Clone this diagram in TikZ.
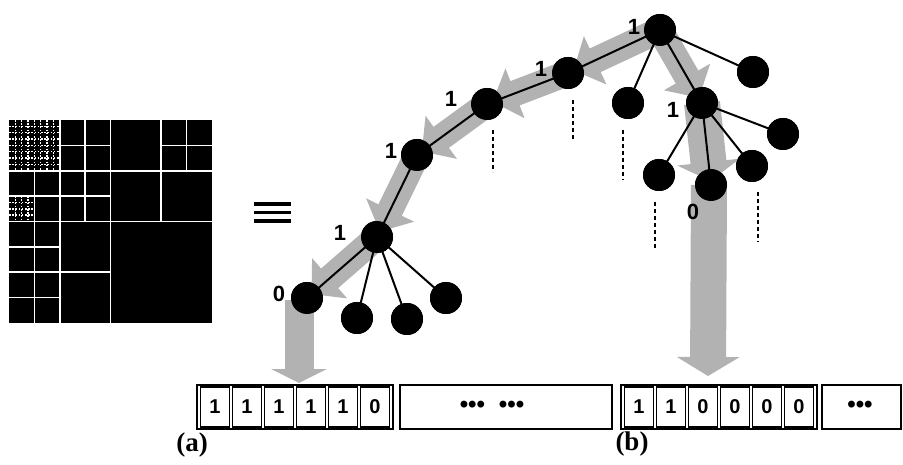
\documentclass[tikz,border=0pt]{standalone}
\usepackage{fontspec}
\setmainfont{Liberation Serif}
\newfontfamily\labelsans{Liberation Sans}
\usetikzlibrary{arrows.meta,calc}
\begin{document}
\begin{tikzpicture}[x=1pt,y=-1pt,
  treenode/.style={circle, fill=black, minimum size=32pt, inner sep=0pt},
  edge/.style={line width=2pt},
  digit/.style={font=\labelsans\bfseries\fontsize{22}{24}\selectfont, inner sep=0pt},
  bitcell/.style={draw, line width=1.1pt, minimum width=29pt, minimum height=40pt,
    inner sep=0pt, font=\labelsans\bfseries\fontsize{20}{22}\selectfont},
  groupbox/.style={line width=1.1pt},
  dotsfont/.style={font=\labelsans\bfseries\fontsize{24}{26}\selectfont, inner sep=0pt},
  vdash/.style={line width=1.6pt, dash pattern=on 4pt off 3pt},
  flowcol/.style={draw=gray!60},
  flowsmall/.style={flowcol, line width=26pt, -{Triangle[width=52pt,length=24pt]}},
  flowbig/.style={flowcol, line width=36pt, -{Triangle[width=62pt,length=19pt]}},
  caption/.style={font=\bfseries\fontsize{27}{29}\selectfont, inner sep=0pt},
  qline/.style={white, line width=1.7pt},
  qdot/.style={white, line width=1.5pt, dash pattern=on 1.6pt off 1.6pt}
]
\useasboundingbox (0,0) rectangle (903,465);

% ---- quadtree partition of the image ----
\begin{scope}[shift={(9,120)}, x=25.375pt, y=-25.375pt]
  \fill[black] (0,0) rectangle (8,8);
  % fine grids in the most refined blocks
  \foreach \k in {1,...,7} {
    \draw[qdot] ({\k*0.25},0) -- ({\k*0.25},2);
    \draw[qdot] (0,{\k*0.25}) -- (2,{\k*0.25});
  }
  \foreach \k in {1,2,3} {
    \draw[qdot] ({\k*0.25},3) -- ({\k*0.25},4);
    \draw[qdot] (0,{3+\k*0.25}) -- (1,{3+\k*0.25});
  }
  % level 1
  \draw[qline] (4,0) -- (4,8);
  \draw[qline] (0,4) -- (8,4);
  % level 2
  \draw[qline] (2,0) -- (2,8);
  \draw[qline] (0,2) -- (8,2);
  \draw[qline] (6,0) -- (6,4);
  \draw[qline] (0,6) -- (4,6);
  % level 3
  \draw[qline] (3,0) -- (3,4);
  \draw[qline] (2,1) -- (4,1);
  \draw[qline] (2,3) -- (4,3);
  \draw[qline] (1,2) -- (1,4);
  \draw[qline] (0,3) -- (2,3);
  \draw[qline] (7,0) -- (7,2);
  \draw[qline] (6,1) -- (8,1);
  \draw[qline] (1,4) -- (1,8);
  \draw[qline] (0,5) -- (2,5);
  \draw[qline] (0,7) -- (2,7);
\end{scope}

% ---- equivalence sign ----
\foreach \yy in {204,212.5,221}
  \draw[line width=3.4pt] (254,\yy) -- (291,\yy);

% ---- tree nodes ----
\node[treenode] (F) at (660,30) {};
\node[treenode] (D) at (568,73) {};
\node[treenode] (C) at (487,104) {};
\node[treenode] (B) at (417,155) {};
\node[treenode] (A) at (377,237) {};
\node[treenode] (N0) at (307,298) {};
\node[treenode] (A1) at (357,318) {};
\node[treenode] (A2) at (407,319) {};
\node[treenode] (A3) at (446,298) {};
\node[treenode] (E) at (628,103) {};
\node[treenode] (G) at (753,72) {};
\node[treenode] (H) at (702,103) {};
\node[treenode] (H1) at (659,175) {};
\node[treenode] (I) at (711,185) {};
\node[treenode] (H3) at (752,166) {};
\node[treenode] (H4) at (783,134) {};

\coordinate (startL) at (299,300);
\coordinate (tipL) at (299,383);
\coordinate (startR) at (709,185);
\coordinate (tipR) at (708,376);

% ---- traversal flow (behind the tree) ----
\draw[flowsmall, shorten >=6pt] (F.center) -- (D.center);
\draw[flowsmall, shorten >=6pt] (D.center) -- (C.center);
\draw[flowsmall, shorten >=6pt] (C.center) -- (B.center);
\draw[flowsmall, shorten >=6pt] (B.center) -- (A.center);
\draw[flowsmall, shorten >=6pt] (A.center) -- (N0.center);
\draw[flowsmall, shorten >=6pt] (F.center) -- (H.center);
\draw[flowbig, shorten >=4pt] (H.center) -- (I.center);
\draw[flowcol, line width=29pt, -{Triangle[width=55pt,length=14pt]}] (startL) -- (tipL);
\draw[flowbig] (startR) -- (tipR);

% ---- tree edges ----
\foreach \u/\v in {F/D, D/C, C/B, B/A, A/N0, A/A1, A/A2, A/A3,
                   F/E, F/G, F/H, H/H1, H/I, H/H3, H/H4}
  \draw[edge] (\u.center) -- (\v.center);

% redraw nodes on top of the edges
\foreach \n in {F,D,C,B,A,N0,A1,A2,A3,E,G,H,H1,I,H3,H4}
  \fill (\n.center) circle (16pt);

% ---- branch labels ----
\node[digit] (lF) at (634,27) {1};
\node[digit] (lD) at (541,69) {1};
\node[digit] (lC) at (451,99) {1};
\node[digit] (lB) at (391,151) {1};
\node[digit] (lA) at (340,233) {1};
\node[digit] (lN0) at (279,294) {0};
\node[digit] (lH) at (673,110) {1};
\node[digit] (lI) at (693,212) {0};

% ---- omitted subtrees ----
\coordinate (dC1) at (493,130); \coordinate (dC2) at (493,172);
\coordinate (dD1) at (573,100); \coordinate (dD2) at (573,140);
\coordinate (dE1) at (623,130); \coordinate (dE2) at (623,180);
\coordinate (dH11) at (655,202); \coordinate (dH12) at (655,250);
\coordinate (dH31) at (758,192); \coordinate (dH32) at (758,242);
\draw[vdash] (dC1) -- (dC2);
\draw[vdash] (dD1) -- (dD2);
\draw[vdash] (dE1) -- (dE2);
\draw[vdash] (dH11) -- (dH12);
\draw[vdash] (dH31) -- (dH32);

% ---- bit stream ----
\draw[groupbox] (197,385) rectangle (393,429);
\foreach \b [count=\i from 0] in {1,1,1,1,1,0}
  \node[bitcell] (p\i) at ({215+\i*32},407) {\b};
\draw[groupbox] (400,385) rectangle (612,429);
\node[dotsfont] (dotsA) at (492,407) {•••\hspace{14pt}•••};
\draw[groupbox] (621,385) rectangle (817,429);
\foreach \b [count=\i from 0] in {1,1,0,0,0,0}
  \node[bitcell] (q\i) at ({639+\i*32},407) {\b};
\draw[groupbox] (822,385) rectangle (901,429);
\node[dotsfont] (dotsB) at (860,407) {•••};

% ---- captions ----
\node[caption] (capA) at (192,445) {(a)};
\node[caption] (capB) at (632,444) {(b)};
\end{tikzpicture}
\end{document}
